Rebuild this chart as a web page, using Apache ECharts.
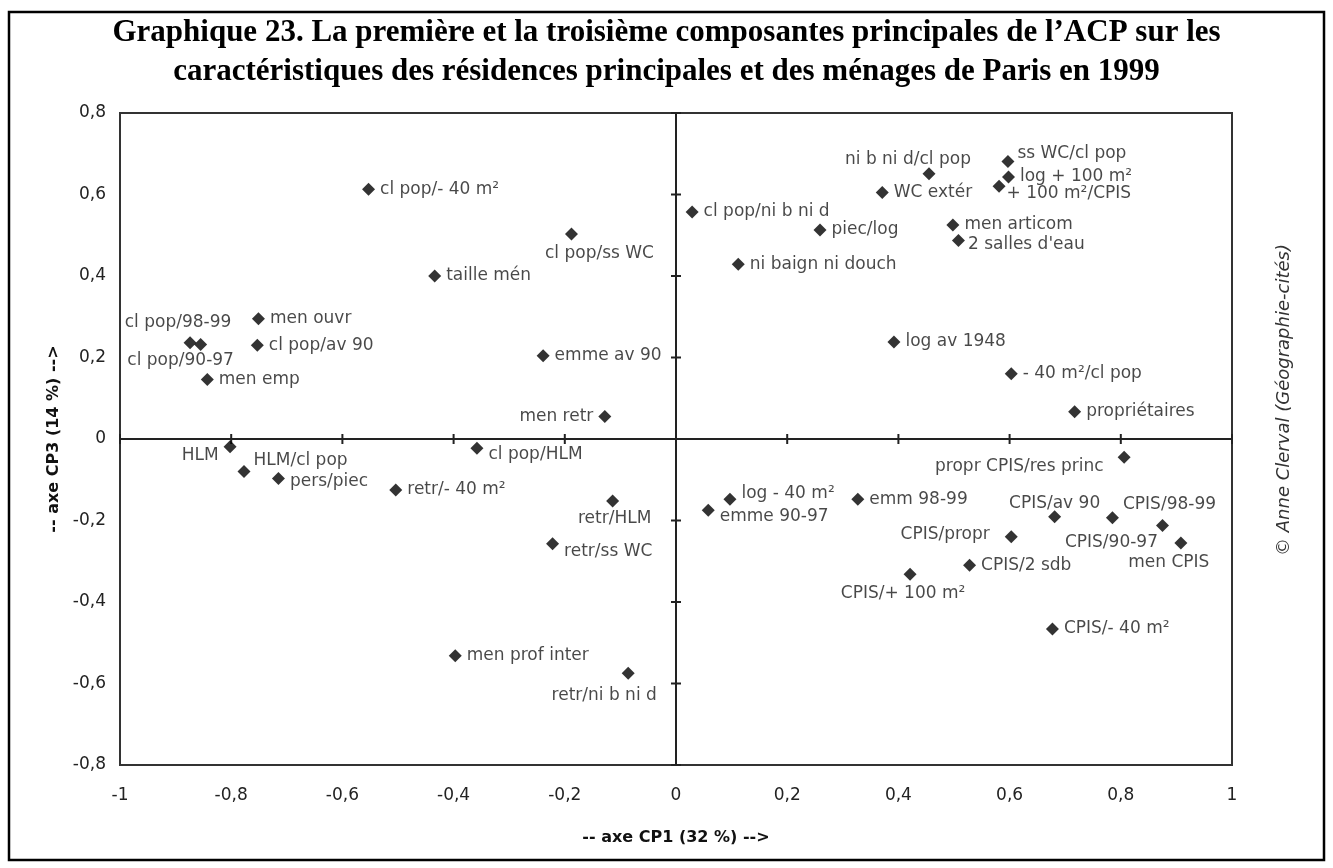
<!DOCTYPE html>
<html>
<head>
<meta charset="utf-8">
<title>ACP Paris 1999 - CP1 / CP3</title>
<script src="https://cdn.jsdelivr.net/npm/echarts@6/dist/echarts.min.js"></script>
<style>
  html, body { margin: 0; padding: 0; background: #fff; }
  #chart { width: 1333px; height: 868px; }
</style>
</head>
<body>
<div id="chart"></div>
<script>
// variables de l'ACP
const names = [
  'cl pop/- 40 m²', 'taille mén', 'men ouvr', 'cl pop/av 90', 'cl pop/98-99',
  'cl pop/90-97', 'men emp', 'HLM', 'HLM/cl pop', 'pers/piec',
  'retr/- 40 m²', 'cl pop/HLM', 'men prof inter', 'cl pop/ss WC', 'emme av 90',
  'men retr', 'cl pop/ni b ni d', 'piec/log', 'ni baign ni douch', 'retr/HLM',
  'retr/ss WC', 'retr/ni b ni d', 'log - 40 m²', 'emme 90-97', 'emm 98-99',
  'CPIS/+ 100 m²', 'ni b ni d/cl pop', 'WC extér', 'ss WC/cl pop', 'log + 100 m²',
  '+ 100 m²/CPIS', 'men articom', "2 salles d'eau", 'log av 1948', '- 40 m²/cl pop',
  'propriétaires', 'propr CPIS/res princ', 'CPIS/av 90', 'CPIS/90-97', 'CPIS/98-99',
  'men CPIS', 'CPIS/propr', 'CPIS/2 sdb', 'CPIS/- 40 m²'
]
// axe CP1
const cp1 = [
  -0.553, -0.434, -0.751, -0.753, -0.874,
  -0.855, -0.843, -0.802, -0.777, -0.715,
  -0.504, -0.358, -0.397, -0.188, -0.239,
  -0.128, 0.029, 0.259, 0.112, -0.114,
  -0.222, -0.086, 0.097, 0.058, 0.327,
  0.421, 0.455, 0.371, 0.597, 0.598,
  0.581, 0.498, 0.508, 0.392, 0.603,
  0.717, 0.806, 0.681, 0.785, 0.875,
  0.908, 0.603, 0.528, 0.677
]
// axe CP3
const cp3 = [
  0.613, 0.400, 0.295, 0.230, 0.236,
  0.232, 0.146, -0.019, -0.080, -0.097,
  -0.125, -0.023, -0.532, 0.503, 0.204,
  0.055, 0.557, 0.513, 0.429, -0.152,
  -0.257, -0.575, -0.148, -0.175, -0.148,
  -0.332, 0.651, 0.605, 0.681, 0.643,
  0.620, 0.525, 0.487, 0.238, 0.160,
  0.067, -0.045, -0.191, -0.193, -0.212,
  -0.255, -0.240, -0.310, -0.466
]
const xTicks = [-1, -0.8, -0.6, -0.4, -0.2, 0, 0.2, 0.4, 0.6, 0.8, 1]
const yTicks = [-0.8, -0.6, -0.4, -0.2, 0, 0.2, 0.4, 0.6, 0.8]

// placement des étiquettes (par défaut à droite du point)
const labelPlace = {
  'cl pop/98-99': ['top', -12, 0],
  'cl pop/90-97': ['bottom', -20, -4],
  'HLM': ['left', 0, 9],
  'HLM/cl pop': ['right', -2, -11],
  'pers/piec': ['right', 0, 3],
  'cl pop/HLM': ['right', 0, 6],
  'cl pop/ss WC': ['bottom', 28, 0],
  'men retr': ['left', 0, 0],
  'retr/HLM': ['bottom', 2, -2],
  'retr/ss WC': ['right', 0, 8],
  'retr/ni b ni d': ['bottom', -24, 2],
  'log - 40 m²': ['right', 0, -6],
  'emme 90-97': ['right', 0, 6],
  'CPIS/+ 100 m²': ['bottom', -7, -1],
  'ni b ni d/cl pop': ['top', -21, 6],
  'ss WC/cl pop': ['right', -2, -8],
  '+ 100 m²/CPIS': ['right', -4, 7],
  "2 salles d'eau": ['right', -2, 4],
  'propr CPIS/res princ': ['left', -9, 9],
  'CPIS/av 90': ['top', 0, 7],
  'CPIS/90-97': ['bottom', -1, 5],
  'CPIS/98-99': ['top', 7, -1],
  'men CPIS': ['bottom', -12, 0],
  'CPIS/propr': ['left', -10, -2]
}

const fmt = v => String(+v.toFixed(1)).replace('.', ',')
const axisColor = '#222'
const labelFont = 'DejaVu Sans'

const points = names.map((n, i) => {
  const p = labelPlace[n] || ['right', 0, 0]
  return {
    name: n,
    value: [cp1[i], cp3[i]],
    label: { position: p[0], offset: [p[1], p[2]] }
  }
})

// tirets en croix sur les axes passant par zéro : [x, y, sens] (0 = vertical, 1 = horizontal)
const crossTicks = xTicks.filter(v => v !== 0).map(v => [v, 0, 0])
  .concat(yTicks.filter(v => v !== 0).map(v => [0, v, 1]))

function renderTick (params, api) {
  const p = api.coord([api.value(0), api.value(1)])
  const vertical = api.value(2) === 0
  return {
    type: 'line',
    shape: vertical
      ? { x1: p[0], y1: p[1] - 5, x2: p[0], y2: p[1] + 5 }
      : { x1: p[0] - 5, y1: p[1], x2: p[0] + 5, y2: p[1] },
    style: { stroke: axisColor, lineWidth: 2 }
  }
}

const chart = echarts.init(document.getElementById('chart'))

chart.setOption({
  animation: false,
  title: {
    text: 'Graphique 23. La première et la troisième composantes principales de l\u2019ACP sur les\ncaractéristiques des résidences principales et des ménages de Paris en 1999',
    left: 'center',
    top: 8,
    textStyle: {
      fontFamily: 'Liberation Serif',
      fontWeight: 'bold',
      fontSize: 31,
      lineHeight: 39,
      color: '#000'
    }
  },
  grid: {
    left: 120, right: 101, top: 113, bottom: 103,
    show: true, borderColor: '#333', borderWidth: 2
  },
  xAxis: {
    type: 'value', min: xTicks[0], max: xTicks[xTicks.length - 1], interval: 0.2,
    splitLine: { show: false },
    axisLine: { show: false, onZero: false },
    axisTick: { show: false },
    axisLabel: { formatter: fmt, margin: 22, color: '#222', fontFamily: labelFont, fontSize: 17 },
    name: '-- axe CP1 (32 %) -->',
    nameLocation: 'middle',
    nameGap: 65,
    nameTextStyle: { fontFamily: labelFont, fontWeight: 'bold', fontSize: 16, color: '#111' }
  },
  yAxis: {
    type: 'value', min: yTicks[0], max: yTicks[yTicks.length - 1], interval: 0.2,
    splitLine: { show: false },
    axisLine: { show: false, onZero: false },
    axisTick: { show: false },
    axisLabel: { formatter: fmt, margin: 14, color: '#222', fontFamily: labelFont, fontSize: 17 },
    name: '-- axe CP3 (14 %) -->',
    nameLocation: 'middle',
    nameGap: 54,
    nameTextStyle: { fontFamily: labelFont, fontWeight: 'bold', fontSize: 16, color: '#111' }
  },
  series: [
    {
      type: 'scatter',
      symbol: 'diamond',
      symbolSize: 13,
      itemStyle: { color: '#000' },
      label: {
        show: true,
        formatter: '{b}',
        distance: 5,
        color: '#1a1a1a',
        fontFamily: labelFont,
        fontSize: 17
      },
      emphasis: { disabled: true },
      // axes passant par l'origine
      markLine: {
        silent: true,
        symbol: 'none',
        label: { show: false },
        lineStyle: { type: 'solid', color: axisColor, width: 2 },
        data: [{ xAxis: 0 }, { yAxis: 0 }]
      },
      data: points
    },
    {
      type: 'custom',
      silent: true,
      renderItem: renderTick,
      data: crossTicks
    }
  ],
  graphic: [
    {
      type: 'rect',
      shape: { x: 9, y: 12, width: 1315, height: 848 },
      style: { fill: 'none', stroke: '#000', lineWidth: 2.5 },
      silent: true
    },
    {
      type: 'text',
      x: 1284, y: 400,
      rotation: Math.PI / 2,
      style: {
        text: '© Anne Clerval (Géographie-cités)',
        fontFamily: labelFont,
        fontStyle: 'italic',
        fontSize: 18,
        fill: '#333',
        align: 'center',
        verticalAlign: 'middle'
      }
    }
  ]
})
</script>
</body>
</html>
